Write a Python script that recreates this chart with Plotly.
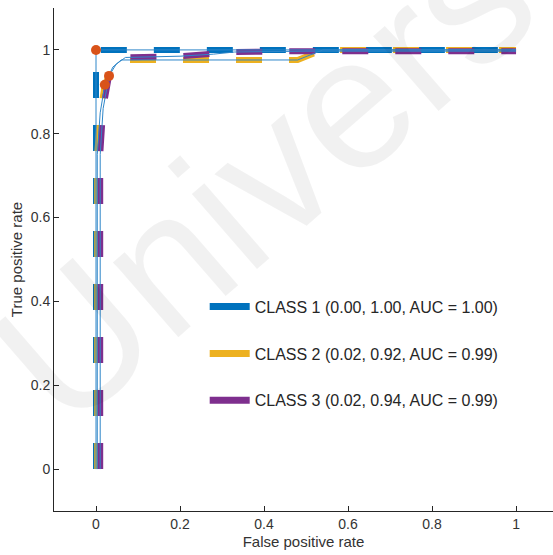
import plotly.graph_objects as go

# ROC data
c1_fpr = [0.0, 0.0, 0.0, 1.0]
c1_tpr = [0.0, 0.5, 1.0, 1.0]
c2_fpr = [0.003, 0.003, 0.01, 0.021, 0.04, 0.06, 0.48, 0.54, 1.0]
c2_tpr = [0.0, 0.75, 0.85, 0.917, 0.959, 0.976, 0.976, 1.0, 1.0]
c3_fpr = [0.01, 0.01, 0.017, 0.031, 0.048, 0.07, 0.2, 0.28, 0.33, 0.5, 1.0]
c3_tpr = [0.0, 0.75, 0.86, 0.938, 0.966, 0.982, 0.985, 0.99, 0.995, 0.997, 0.997]
op_fpr = [0.0, 0.021, 0.031]
op_tpr = [1.0, 0.917, 0.938]
names = ["CLASS 1 (0.00, 1.00, AUC = 1.00)",
         "CLASS 2 (0.02, 0.92, AUC = 0.99)",
         "CLASS 3 (0.02, 0.94, AUC = 0.99)"]
colors = ["#0072BD", "#EDB120", "#7E2F8E"]
thin_color = "#2E86C9"
op_color = "#D95319"
x_ticks = [0, 0.2, 0.4, 0.6, 0.8, 1]
x_tick_text = ["0", "0.2", "0.4", "0.6", "0.8", "1"]
y_ticks = [0, 0.2, 0.4, 0.6, 0.8, 1]
y_tick_text = ["0", "0.2", "0.4", "0.6", "0.8", "1"]
watermark = "Univers"

fig = go.Figure()
curves = [(c1_fpr, c1_tpr), (c2_fpr, c2_tpr), (c3_fpr, c3_tpr)]
# thick dashed lines
for (fx, ty), col in zip(curves, colors):
    fig.add_trace(go.Scatter(x=fx, y=ty, mode="lines", showlegend=False,
                             line=dict(color=col, width=6, dash="26px,27px")))
# thin solid lines on top
for (fx, ty) in curves:
    fig.add_trace(go.Scatter(x=fx, y=ty, mode="lines", showlegend=False,
                             line=dict(color=thin_color, width=1)))
fig.add_trace(go.Scatter(x=op_fpr, y=op_tpr, mode="markers", showlegend=False,
                         marker=dict(color=op_color, size=10)))
# legend entries (solid sample)
for i, (nm, col) in enumerate(zip(names, colors)):
    fig.add_trace(go.Scatter(x=[None], y=[None], mode="lines", name=nm,
                             legendgroup=f"g{i}",
                             line=dict(color=col, width=7)))

fig.add_annotation(text=watermark, x=0.42, y=0.665, xref="paper", yref="paper",
                   showarrow=False, textangle=-41,
                   font=dict(family="Liberation Sans", size=188, color="rgba(0,0,0,0.055)"))

fig.update_layout(
    width=553, height=555,
    margin=dict(l=54, r=0, t=8, b=44),
    paper_bgcolor="white", plot_bgcolor="white",
    font=dict(family="Liberation Sans, Arial, sans-serif", size=14, color="#333333"),
    legend=dict(x=0.302, y=0.44, xanchor="left", yanchor="top",
                bgcolor="rgba(0,0,0,0)", font=dict(size=16, color="#262626"),
                tracegroupgap=23, itemwidth=40),
    showlegend=True,
)
fig.update_xaxes(range=[-0.1, 1.088], tickvals=x_ticks, ticktext=x_tick_text,
                 showgrid=False, zeroline=False, showline=True, linecolor="#262626",
                 linewidth=1, ticks="inside", ticklen=5, tickcolor="#262626",
                 title=dict(text="False positive rate", standoff=5, font=dict(size=15)))
fig.update_yaxes(range=[-0.1, 1.1], tickvals=y_ticks, ticktext=y_tick_text,
                 showgrid=False, zeroline=False, showline=True, linecolor="#262626",
                 linewidth=1, ticks="inside", ticklen=5, tickcolor="#262626",
                 title=dict(text="True positive rate", standoff=4, font=dict(size=15)))

fig.write_html("out.html")
